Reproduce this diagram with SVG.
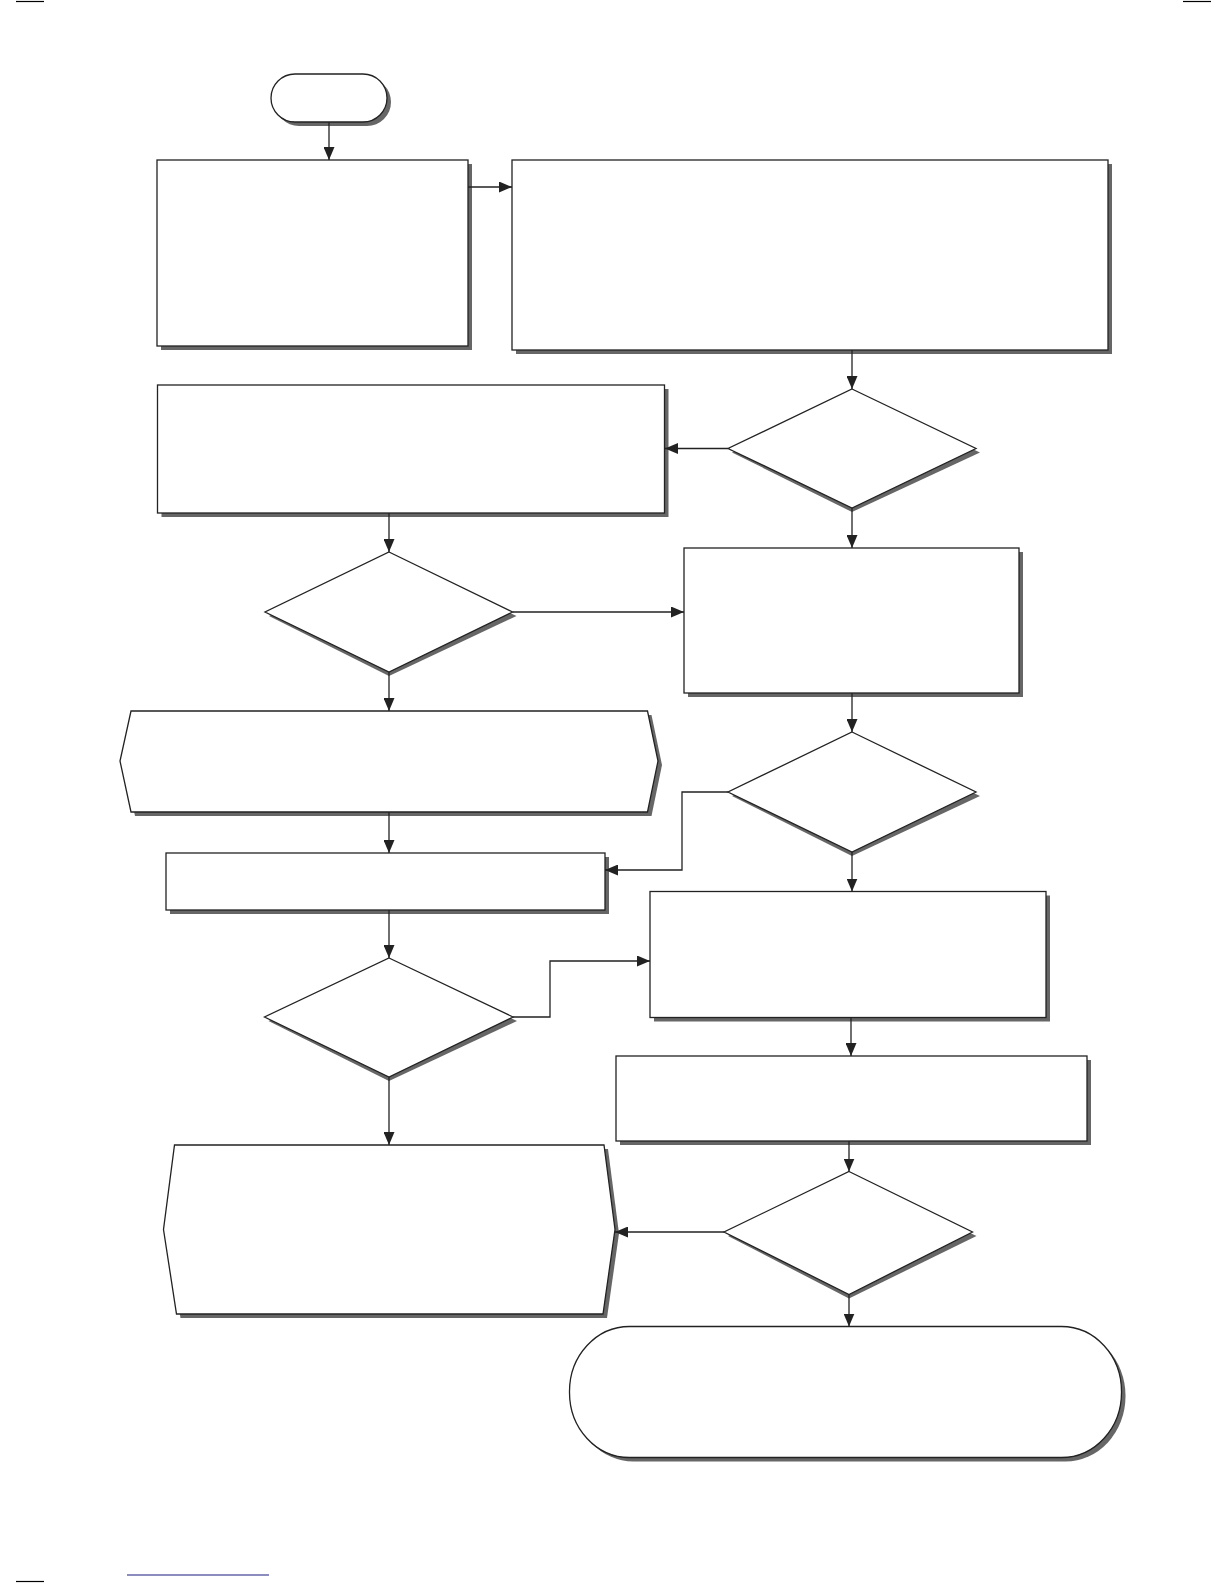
<svg xmlns="http://www.w3.org/2000/svg" width="1224" height="1584" viewBox="0 0 1224 1584">
<style>
.sh{fill:#666666;stroke:none}
.nd{fill:#ffffff;stroke:#222222;stroke-width:1.3}
.cn{fill:none;stroke:#222222;stroke-width:1.3}
.mk{stroke:#000000;stroke-width:1.2}
</style>
<defs>
<marker id="arr" viewBox="0 0 13 11" refX="13" refY="5.5" markerWidth="13" markerHeight="11" markerUnits="userSpaceOnUse" orient="auto">
<path d="M0,0 L13,5.5 L0,11 z" fill="#222222"/>
</marker>
</defs>
<rect width="1224" height="1584" fill="#ffffff"/>
<g id="marks">
<line class="mk" x1="16" y1="1.5" x2="44" y2="1.5"/>
<line class="mk" x1="1183" y1="1.5" x2="1211" y2="1.5"/>
<line class="mk" x1="16" y1="1581.5" x2="44" y2="1581.5"/>
<line x1="127" y1="1575" x2="269" y2="1575" stroke="#1a1a80" stroke-width="1.2"/>
</g>
<g id="start">
<rect class="sh" x="275" y="78" width="116" height="48" rx="24" ry="24"/>
<rect class="nd" x="271" y="74" width="116" height="48" rx="24" ry="24"/>
</g>
<g id="box1">
<rect class="sh" x="161" y="164" width="311" height="186"/>
<rect class="nd" x="157" y="160" width="311" height="186"/>
</g>
<g id="box2">
<rect class="sh" x="516" y="164" width="596" height="190"/>
<rect class="nd" x="512" y="160" width="596" height="190"/>
</g>
<g id="decision1">
<polygon class="sh" points="852,393 980,452.5 852,512 732,452.5"/>
<polygon class="nd" points="852,389 976,448.5 852,508 728,448.5"/>
</g>
<g id="box3">
<rect class="sh" x="161.5" y="389" width="507" height="128"/>
<rect class="nd" x="157.5" y="385" width="507" height="128"/>
</g>
<g id="decision2">
<polygon class="sh" points="389,556 516.5,616 389,676 269,616"/>
<polygon class="nd" points="389,552 512.5,612 389,672 265,612"/>
</g>
<g id="box4">
<rect class="sh" x="688" y="552" width="335" height="145"/>
<rect class="nd" x="684" y="548" width="335" height="145"/>
</g>
<g id="io1">
<polygon class="sh" points="135,715 651.5,715 662,765 651.5,816 135,816 124,765"/>
<polygon class="nd" points="131,711 647.5,711 658,761 647.5,812 131,812 120,761"/>
</g>
<g id="decision3">
<polygon class="sh" points="852,736 980,796 852,856 732,796"/>
<polygon class="nd" points="852,732 976,792 852,852 728,792"/>
</g>
<g id="box6">
<rect class="sh" x="170" y="857" width="439" height="57"/>
<rect class="nd" x="166" y="853" width="439" height="57"/>
</g>
<g id="box7">
<rect class="sh" x="654" y="895.5" width="396" height="126"/>
<rect class="nd" x="650" y="891.5" width="396" height="126"/>
</g>
<g id="decision4">
<polygon class="sh" points="389,962 517,1021 389,1081 268.5,1021"/>
<polygon class="nd" points="389,958 513,1017 389,1077 264.5,1017"/>
</g>
<g id="box8">
<rect class="sh" x="620" y="1060" width="471" height="85"/>
<rect class="nd" x="616" y="1056" width="471" height="85"/>
</g>
<g id="decision5">
<polygon class="sh" points="849,1175.5 976.5,1236 849,1298.5 728,1236"/>
<polygon class="nd" points="849,1171.5 972.5,1232 849,1294.5 724,1232"/>
</g>
<g id="io2">
<polygon class="sh" points="178.5,1149 608,1149 619,1233.5 607,1318 180.5,1318 167.5,1233.5"/>
<polygon class="nd" points="174.5,1145 604,1145 615,1229.5 603,1314 176.5,1314 163.5,1229.5"/>
</g>
<g id="end">
<rect class="sh" x="573.5" y="1330.5" width="552" height="131" rx="60" ry="65"/>
<rect class="nd" x="569.5" y="1326.5" width="552" height="131" rx="60" ry="65"/>
</g>
<g id="connectors">
<path class="cn" d="M329,122 V160" marker-end="url(#arr)"/>
<path class="cn" d="M468,187 H512" marker-end="url(#arr)"/>
<path class="cn" d="M852,350 V389" marker-end="url(#arr)"/>
<path class="cn" d="M728,448.5 H665" marker-end="url(#arr)"/>
<path class="cn" d="M852,508 V548" marker-end="url(#arr)"/>
<path class="cn" d="M389,513 V552" marker-end="url(#arr)"/>
<path class="cn" d="M512.5,612 H684" marker-end="url(#arr)"/>
<path class="cn" d="M389,672 V711" marker-end="url(#arr)"/>
<path class="cn" d="M852,693 V732" marker-end="url(#arr)"/>
<path class="cn" d="M728,792 H682 V870 H605" marker-end="url(#arr)"/>
<path class="cn" d="M852,852 V891.5" marker-end="url(#arr)"/>
<path class="cn" d="M389,812 V853" marker-end="url(#arr)"/>
<path class="cn" d="M389,910 V958" marker-end="url(#arr)"/>
<path class="cn" d="M513,1017 H550 V961 H650" marker-end="url(#arr)"/>
<path class="cn" d="M389,1077 V1145" marker-end="url(#arr)"/>
<path class="cn" d="M851,1017.5 V1056" marker-end="url(#arr)"/>
<path class="cn" d="M849,1141 V1171.5" marker-end="url(#arr)"/>
<path class="cn" d="M724,1232 H615" marker-end="url(#arr)"/>
<path class="cn" d="M849,1294.5 V1326.5" marker-end="url(#arr)"/>
</g>
</svg>
